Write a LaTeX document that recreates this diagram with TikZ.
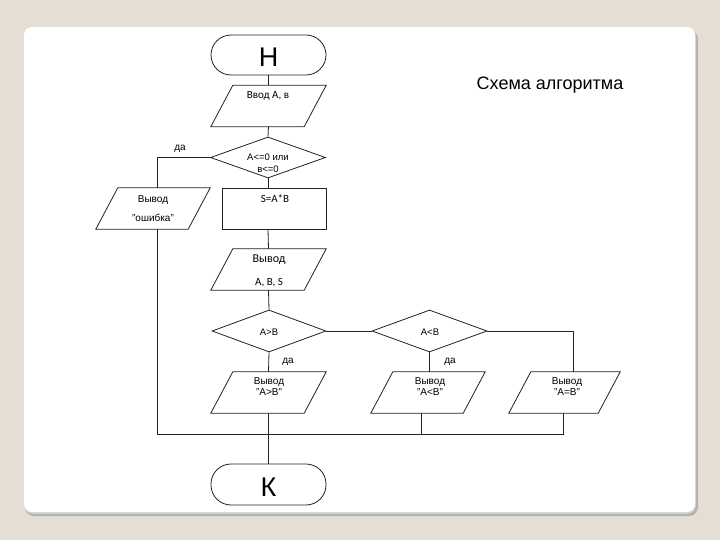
\documentclass[tikz,border=0pt]{standalone}
\usepackage{fontspec}
\setmainfont{Liberation Sans}
\newfontfamily\carlitofont{Carlito}
\usetikzlibrary{shapes.geometric,calc}
\definecolor{bgbeige}{HTML}{E4DED4}
\definecolor{ink}{HTML}{222222}
\tikzset{
  ln/.style={draw=ink, line width=0.8pt},
  term/.style={ln, rectangle, rounded corners=20pt, minimum width=115pt, minimum height=40pt, inner sep=0pt},
  io/.style={rectangle, minimum width=115pt, minimum height=41pt, inner sep=0pt},
  dec/.style={ln, diamond, minimum width=115pt, minimum height=41pt, inner sep=0pt},
  proc/.style={ln, rectangle, minimum width=104pt, minimum height=41pt, inner sep=0pt},
  txt/.style={inner sep=0pt, font=\fontsize{10}{10}\selectfont, text=black},
  ctxt/.style={inner sep=0pt, font=\carlitofont\fontsize{11}{11}\selectfont, text=black},
  big/.style={inner sep=0pt, font=\fontsize{27}{27}\selectfont, text=black},
}
\newcommand\ioshape[1]{\draw[ln] ($(#1.north west)+(22,0)$) -- (#1.north east) -- ($(#1.south east)+(-22,0)$) -- (#1.south west) -- cycle;}
\begin{document}
\begin{tikzpicture}[x=1pt,y=-1pt]
\useasboundingbox (0,0) rectangle (720,540);
\fill[bgbeige] (0,0) rectangle (720,540);
% card shadow and card
\fill[black!30, rounded corners=9pt] (25,30) rectangle (698,516);
\fill[black!18, rounded corners=9pt] (24,28) rectangle (696,514);
\fill[white, rounded corners=8pt] (24,27) rectangle (695,512);

% nodes
\node[term] (start) at (268.5,55) {};
\node[big] (startT) at (268.5,57) {Н};
\node[io] (in) at (268.5,106) {};
\ioshape{in}
\node[ctxt] (inT) at (268,96) {Ввод А, в};
\node[dec] (d1) at (268,157.5) {};
\node[txt, font=\fontsize{9.5}{9.5}\selectfont] (d1a) at (268,157) {А<=0 или};
\node[txt, font=\fontsize{9.5}{9.5}\selectfont] (d1b) at (268,169) {в<=0};
\node[io, minimum width=114pt] (err) at (153,208.5) {};
\ioshape{err}
\node[txt] (errA) at (153,200) {Вывод};
\node[txt] (errB) at (153,218) {"ошибка"};
\node[proc] (calc) at (274,208.5) {};
\node[ctxt] (calcT) at (275,199) {S=A*B};
\node[io] (out1) at (268.5,269.5) {};
\ioshape{out1}
\node[ctxt, font=\carlitofont\fontsize{12}{12}\selectfont] (out1a) at (269,260) {Вывод};
\node[ctxt] (out1b) at (269,283) {A, B, S};
\node[dec, minimum width=114pt, minimum height=42pt] (d2) at (269,331) {};
\node[txt, font=\fontsize{9.5}{9.5}\selectfont] (d2T) at (269,332) {A>B};
\node[dec, minimum width=115pt, minimum height=42pt] (d3) at (429.5,331) {};
\node[txt, font=\fontsize{9.5}{9.5}\selectfont] (d3T) at (430,332) {A<B};
\node[io] (o1) at (268.5,392.5) {};
\ioshape{o1}
\node[txt] (o1a) at (269,382) {Вывод};
\node[txt] (o1b) at (269,392) {"A>B"};
\node[io, minimum width=114pt] (o2) at (428,392.5) {};
\ioshape{o2}
\node[txt] (o2a) at (430,382) {Вывод};
\node[txt] (o2b) at (430,392) {"A<B"};
\node[io, minimum width=111pt] (o3) at (564.5,392.5) {};
\ioshape{o3}
\node[txt] (o3a) at (567,382) {Вывод};
\node[txt] (o3b) at (567,392) {"A=B"};
\node[term, minimum height=41pt] (end) at (268.5,484.5) {};
\node[big] (endT) at (268.5,487) {К};
\node[txt, font=\fontsize{18}{18}\selectfont] (title) at (550,85) {Схема алгоритма};
\node[txt] (yes1) at (180,149) {да};
\node[txt] (yes2) at (288,362) {да};
\node[txt] (yes3) at (450,362) {да};

% connectors
\coordinate (busL) at (157,434);
\coordinate (busR) at (563,434);
\coordinate (j2) at (421,434);
\coordinate (j3) at (573,0);
\draw[ln] (start.south) -- (in.north);
\draw[ln] (in.south) -- (d1.north);
\draw[ln] (d1.south) -- (d1.south |- calc.north);
\draw[ln] (d1.west) -| (busL |- err.north);
\draw[ln] (calc.south -| d1.south) -- (out1.north);
\draw[ln] (out1.south) -- (d2.north);
\draw[ln] (d2.east) -- (d3.west);
\draw[ln] (d2.south) -- (o1.north);
\draw[ln] (d3.south) -- (d3.south |- o2.north);
\draw[ln] (d3.east) -| (j3 |- o3.north);
\draw[ln] (busL |- err.south) -- (busL) -- (busR) -- (busR |- o3.south);
\draw[ln] (j2 |- o2.south) -- (j2);
\draw[ln] (o1.south) -- (end.north);
\end{tikzpicture}
\end{document}
